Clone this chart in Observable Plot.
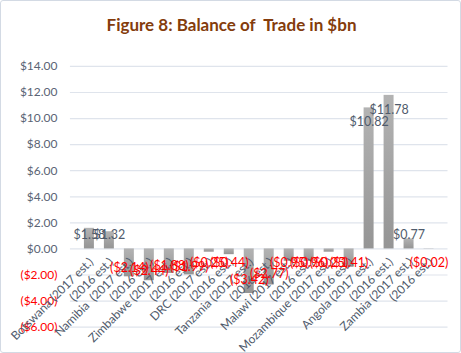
<!DOCTYPE html>
<html>
<head>
<meta charset="utf-8">
<script src="https://cdn.jsdelivr.net/npm/d3@7"></script>
<script src="https://cdn.jsdelivr.net/npm/@observablehq/plot@0.6"></script>
<style>
  html, body { margin: 0; padding: 0; background: #fff; }
  #wrap { position: relative; width: 461px; height: 353px; box-sizing: border-box;
          border: 1.5px solid #d3dae4; border-radius: 3px; overflow: hidden; font-family: Lato, sans-serif; }
  #title { position: absolute; top: 13px; left: 0; width: 461px; text-align: center;
           font: bold 17px Lato, sans-serif; color: #843c0c; white-space: pre; }
  #chart { position: absolute; top: -1.5px; left: -1.5px; }
</style>
</head>
<body>
<div id="wrap">
  <div id="title">Figure 8: Balance of  Trade in $bn</div>
  <div id="chart"></div>
</div>
<script>
const categories = ["Botswana (2017 est.)", "(2016 est.)", "Namibia  (2017 est.)", "(2016 est.)",
  "Zimbabwe (2017 est.)", "(2016 est.)", "DRC (2017 est.)", "(2016 est.)",
  "Tanzania (2017 est.)", "(2016 est.)", "Malawi (2017 est.)", "(2016 est.)",
  "Mozambique (2017 est.)", "(2016 est.)", "Angola (2017 est.)", "(2016 est.)",
  "Zambia (2017 est.)", "(2016 est.)"];
const balance = [1.58, 1.32, -2.14, -2.44, -1.88, -1.99, -0.25, -0.44, -3.42, -2.77,
  -0.95, -0.96, -0.25, -1.41, 10.82, 11.78, 0.77, -0.02];
const yTicks = [-6, -4, -2, 0, 2, 4, 6, 8, 10, 12, 14];

const data = categories.map((c, i) => ({i, label: c, v: balance[i]}));
const money = v => v < 0 ? `($${Math.abs(v).toFixed(2)})` : `$${v.toFixed(2)}`;
const labelY = d => d.v >= 0 ? Math.max(d.v - 1.1, 1.07) : Math.min(d.v * 0.7, -1.1);

const slate = "#4f5b6c";
const chart = Plot.plot({
  width: 461,
  height: 353,
  marginLeft: 70,
  marginRight: 13,
  marginTop: 66,
  marginBottom: 26,
  style: {fontFamily: "Lato, sans-serif", background: "transparent", overflow: "visible"},
  x: {type: "band", domain: d3.range(categories.length), padding: 0.5, axis: null},
  y: {domain: [-6, 14], axis: null},
  marks: [
    Plot.ruleY(yTicks, {stroke: "#dfe4ec", strokeWidth: 1.2}),
    Plot.text(yTicks, {y: d => d, text: d => money(d), frameAnchor: "left", dx: -13,
      textAnchor: "end", fill: d => d < 0 ? "#ff0000" : "#5a6474", fontSize: 12}),
    Plot.barY(data, {x: "i", y: "v", fill: "url(#bargrad)"}),
    Plot.text(data, {x: "i", y: 0, text: "label", rotate: -45, textAnchor: "end",
      lineAnchor: "middle", dx: 2, dy: 11, fill: slate, fontSize: 12}),
    Plot.text(data, {x: "i", y: labelY, text: d => money(d.v),
      fill: d => d.v < 0 ? "#ff0000" : slate, fontSize: 12.5})
  ]
});

const defs = d3.select(chart).insert("defs", ":first-child");
const g = defs.append("linearGradient").attr("id", "bargrad")
  .attr("x1", 0).attr("y1", 0).attr("x2", 0).attr("y2", 1);
g.append("stop").attr("offset", "0%").attr("stop-color", "#b3b3b3");
g.append("stop").attr("offset", "100%").attr("stop-color", "#959595");

document.getElementById("chart").appendChild(chart);
</script>
</body>
</html>
